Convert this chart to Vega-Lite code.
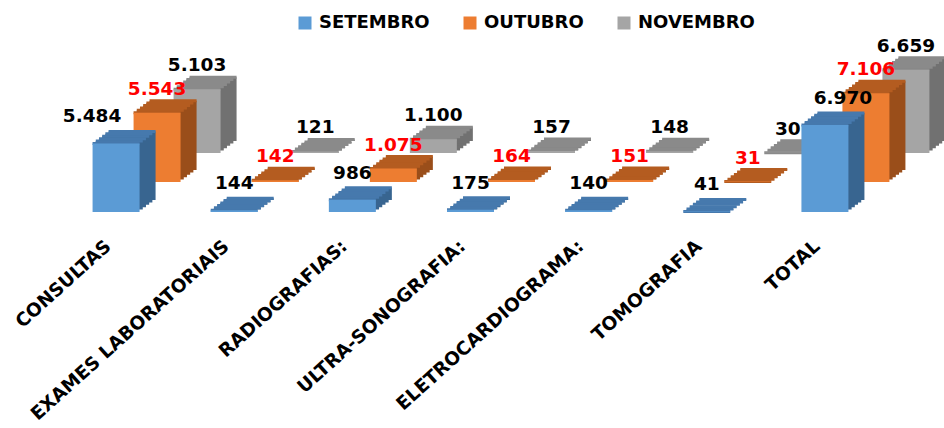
{
  "$schema": "https://vega.github.io/schema/vega-lite/v6.json",
  "width": 827,
  "height": 172,
  "autosize": {"type": "none"},
  "padding": {"left": 98, "top": 40, "right": 19, "bottom": 216},
  "background": "white",
  "config": {
    "view": {"stroke": null},
    "font": "DejaVu Sans",
    "locale": {"number": {"decimal": ",", "thousands": ".", "grouping": [3], "currency": ["R$", ""]}}
  },
  "data": {
    "values": [
      {"cat": "CONSULTAS", "s": "SETEMBRO", "v": 5484},
      {"cat": "CONSULTAS", "s": "OUTUBRO", "v": 5543},
      {"cat": "CONSULTAS", "s": "NOVEMBRO", "v": 5103},
      {"cat": "EXAMES LABORATORIAIS", "s": "SETEMBRO", "v": 144},
      {"cat": "EXAMES LABORATORIAIS", "s": "OUTUBRO", "v": 142},
      {"cat": "EXAMES LABORATORIAIS", "s": "NOVEMBRO", "v": 121},
      {"cat": "RADIOGRAFIAS:", "s": "SETEMBRO", "v": 986},
      {"cat": "RADIOGRAFIAS:", "s": "OUTUBRO", "v": 1075},
      {"cat": "RADIOGRAFIAS:", "s": "NOVEMBRO", "v": 1100},
      {"cat": "ULTRA-SONOGRAFIA:", "s": "SETEMBRO", "v": 175},
      {"cat": "ULTRA-SONOGRAFIA:", "s": "OUTUBRO", "v": 164},
      {"cat": "ULTRA-SONOGRAFIA:", "s": "NOVEMBRO", "v": 157},
      {"cat": "ELETROCARDIOGRAMA:", "s": "SETEMBRO", "v": 140},
      {"cat": "ELETROCARDIOGRAMA:", "s": "OUTUBRO", "v": 151},
      {"cat": "ELETROCARDIOGRAMA:", "s": "NOVEMBRO", "v": 148},
      {"cat": "TOMOGRAFIA", "s": "SETEMBRO", "v": 41},
      {"cat": "TOMOGRAFIA", "s": "OUTUBRO", "v": 31},
      {"cat": "TOMOGRAFIA", "s": "NOVEMBRO", "v": 30},
      {"cat": "TOTAL", "s": "SETEMBRO", "v": 6970},
      {"cat": "TOTAL", "s": "OUTUBRO", "v": 7106},
      {"cat": "TOTAL", "s": "NOVEMBRO", "v": 6659}
    ]
  },
  "encoding": {
    "x": {
      "field": "cat", "type": "nominal", "sort": null,
      "scale": {"paddingInner": 0, "paddingOuter": 0},
      "axis": {
        "title": null, "domain": false, "ticks": false, "tickSize": 0,
        "labelAngle": -42, "labelAlign": "right", "labelBaseline": "middle",
        "labelFont": "DejaVu Sans", "labelFontWeight": "bold", "labelFontSize": 18.5,
        "labelColor": "#000000", "labelOffset": -49, "labelPadding": 31,
        "labelLimit": 0, "labelOverlap": false, "labelBound": false, "labelFlush": false
      }
    },
    "y": {"field": "v", "type": "quantitative", "scale": {"domain": [0, 13760]}, "axis": null}
  },
  "layer": [
    {"transform": [{"filter": "datum.s === 'NOVEMBRO'"}], "mark": {"type": "bar", "width": 47, "color": "#717171", "xOffset": 43.2, "yOffset": -61.4, "y2Offset": -61.4}},
    {"transform": [{"filter": "datum.s === 'NOVEMBRO'"}], "mark": {"type": "bar", "width": 47, "color": "#717171", "xOffset": 46.4, "yOffset": -63.8, "y2Offset": -63.8}},
    {"transform": [{"filter": "datum.s === 'NOVEMBRO'"}], "mark": {"type": "bar", "width": 47, "color": "#717171", "xOffset": 49.6, "yOffset": -66.2, "y2Offset": -66.2}},
    {"transform": [{"filter": "datum.s === 'NOVEMBRO'"}], "mark": {"type": "bar", "width": 47, "color": "#717171", "xOffset": 52.8, "yOffset": -68.6, "y2Offset": -68.6}},
    {"transform": [{"filter": "datum.s === 'NOVEMBRO'"}], "mark": {"type": "bar", "width": 47, "color": "#717171", "xOffset": 56, "yOffset": -71, "y2Offset": -71}},
    {"transform": [{"filter": "datum.s === 'NOVEMBRO'"}], "mark": {"type": "tick", "orient": "horizontal", "size": 47, "thickness": 3, "opacity": 1, "color": "#8a8a8a", "xOffset": 40, "yOffset": -59}},
    {"transform": [{"filter": "datum.s === 'NOVEMBRO'"}], "mark": {"type": "tick", "orient": "horizontal", "size": 47, "thickness": 3, "opacity": 1, "color": "#8a8a8a", "xOffset": 43.2, "yOffset": -61.4}},
    {"transform": [{"filter": "datum.s === 'NOVEMBRO'"}], "mark": {"type": "tick", "orient": "horizontal", "size": 47, "thickness": 3, "opacity": 1, "color": "#8a8a8a", "xOffset": 46.4, "yOffset": -63.8}},
    {"transform": [{"filter": "datum.s === 'NOVEMBRO'"}], "mark": {"type": "tick", "orient": "horizontal", "size": 47, "thickness": 3, "opacity": 1, "color": "#8a8a8a", "xOffset": 49.6, "yOffset": -66.2}},
    {"transform": [{"filter": "datum.s === 'NOVEMBRO'"}], "mark": {"type": "tick", "orient": "horizontal", "size": 47, "thickness": 3, "opacity": 1, "color": "#8a8a8a", "xOffset": 52.8, "yOffset": -68.6}},
    {"transform": [{"filter": "datum.s === 'NOVEMBRO'"}], "mark": {"type": "tick", "orient": "horizontal", "size": 47, "thickness": 3, "opacity": 1, "color": "#8a8a8a", "xOffset": 56, "yOffset": -71}},
    {"transform": [{"filter": "datum.s === 'NOVEMBRO'"}], "mark": {"type": "bar", "width": 47, "xOffset": 40, "yOffset": -59, "y2Offset": -59},
     "encoding": {"color": {"field": "s", "type": "nominal", "scale": {"domain": ["SETEMBRO", "OUTUBRO", "NOVEMBRO"], "range": ["#5B9BD5", "#ED7D31", "#A5A5A5"]},
       "legend": {"title": null, "orient": "none", "direction": "horizontal", "legendX": 198, "legendY": -26, "symbolType": "square", "symbolSize": 169, "symbolStrokeWidth": 0, "symbolOpacity": 1, "labelFont": "DejaVu Sans", "labelFontWeight": "bold", "labelFontSize": 18, "labelColor": "#000000", "labelOffset": 5, "columnPadding": 31, "labelLimit": 0}}}},

    {"transform": [{"filter": "datum.s === 'OUTUBRO'"}], "mark": {"type": "bar", "width": 47, "color": "#9a4e1a", "xOffset": 3.2, "yOffset": -32.4, "y2Offset": -32.4}},
    {"transform": [{"filter": "datum.s === 'OUTUBRO'"}], "mark": {"type": "bar", "width": 47, "color": "#9a4e1a", "xOffset": 6.4, "yOffset": -34.8, "y2Offset": -34.8}},
    {"transform": [{"filter": "datum.s === 'OUTUBRO'"}], "mark": {"type": "bar", "width": 47, "color": "#9a4e1a", "xOffset": 9.6, "yOffset": -37.2, "y2Offset": -37.2}},
    {"transform": [{"filter": "datum.s === 'OUTUBRO'"}], "mark": {"type": "bar", "width": 47, "color": "#9a4e1a", "xOffset": 12.8, "yOffset": -39.6, "y2Offset": -39.6}},
    {"transform": [{"filter": "datum.s === 'OUTUBRO'"}], "mark": {"type": "bar", "width": 47, "color": "#9a4e1a", "xOffset": 16, "yOffset": -42, "y2Offset": -42}},
    {"transform": [{"filter": "datum.s === 'OUTUBRO'"}], "mark": {"type": "tick", "orient": "horizontal", "size": 47, "thickness": 3, "opacity": 1, "color": "#b45c20", "xOffset": 0, "yOffset": -30}},
    {"transform": [{"filter": "datum.s === 'OUTUBRO'"}], "mark": {"type": "tick", "orient": "horizontal", "size": 47, "thickness": 3, "opacity": 1, "color": "#b45c20", "xOffset": 3.2, "yOffset": -32.4}},
    {"transform": [{"filter": "datum.s === 'OUTUBRO'"}], "mark": {"type": "tick", "orient": "horizontal", "size": 47, "thickness": 3, "opacity": 1, "color": "#b45c20", "xOffset": 6.4, "yOffset": -34.8}},
    {"transform": [{"filter": "datum.s === 'OUTUBRO'"}], "mark": {"type": "tick", "orient": "horizontal", "size": 47, "thickness": 3, "opacity": 1, "color": "#b45c20", "xOffset": 9.6, "yOffset": -37.2}},
    {"transform": [{"filter": "datum.s === 'OUTUBRO'"}], "mark": {"type": "tick", "orient": "horizontal", "size": 47, "thickness": 3, "opacity": 1, "color": "#b45c20", "xOffset": 12.8, "yOffset": -39.6}},
    {"transform": [{"filter": "datum.s === 'OUTUBRO'"}], "mark": {"type": "tick", "orient": "horizontal", "size": 47, "thickness": 3, "opacity": 1, "color": "#b45c20", "xOffset": 16, "yOffset": -42}},
    {"transform": [{"filter": "datum.s === 'OUTUBRO'"}], "mark": {"type": "bar", "width": 47, "xOffset": 0, "yOffset": -30, "y2Offset": -30},
     "encoding": {"color": {"field": "s", "type": "nominal"}}},

    {"transform": [{"filter": "datum.s === 'SETEMBRO'"}], "mark": {"type": "bar", "width": 47, "color": "#386590", "xOffset": -37.8, "yOffset": -2.4, "y2Offset": -2.4}},
    {"transform": [{"filter": "datum.s === 'SETEMBRO'"}], "mark": {"type": "bar", "width": 47, "color": "#386590", "xOffset": -34.6, "yOffset": -4.8, "y2Offset": -4.8}},
    {"transform": [{"filter": "datum.s === 'SETEMBRO'"}], "mark": {"type": "bar", "width": 47, "color": "#386590", "xOffset": -31.4, "yOffset": -7.2, "y2Offset": -7.2}},
    {"transform": [{"filter": "datum.s === 'SETEMBRO'"}], "mark": {"type": "bar", "width": 47, "color": "#386590", "xOffset": -28.2, "yOffset": -9.6, "y2Offset": -9.6}},
    {"transform": [{"filter": "datum.s === 'SETEMBRO'"}], "mark": {"type": "bar", "width": 47, "color": "#386590", "xOffset": -25, "yOffset": -12, "y2Offset": -12}},
    {"transform": [{"filter": "datum.s === 'SETEMBRO'"}], "mark": {"type": "tick", "orient": "horizontal", "size": 47, "thickness": 3, "opacity": 1, "color": "#4679ad", "xOffset": -41, "yOffset": 0}},
    {"transform": [{"filter": "datum.s === 'SETEMBRO'"}], "mark": {"type": "tick", "orient": "horizontal", "size": 47, "thickness": 3, "opacity": 1, "color": "#4679ad", "xOffset": -37.8, "yOffset": -2.4}},
    {"transform": [{"filter": "datum.s === 'SETEMBRO'"}], "mark": {"type": "tick", "orient": "horizontal", "size": 47, "thickness": 3, "opacity": 1, "color": "#4679ad", "xOffset": -34.6, "yOffset": -4.8}},
    {"transform": [{"filter": "datum.s === 'SETEMBRO'"}], "mark": {"type": "tick", "orient": "horizontal", "size": 47, "thickness": 3, "opacity": 1, "color": "#4679ad", "xOffset": -31.4, "yOffset": -7.2}},
    {"transform": [{"filter": "datum.s === 'SETEMBRO'"}], "mark": {"type": "tick", "orient": "horizontal", "size": 47, "thickness": 3, "opacity": 1, "color": "#4679ad", "xOffset": -28.2, "yOffset": -9.6}},
    {"transform": [{"filter": "datum.s === 'SETEMBRO'"}], "mark": {"type": "tick", "orient": "horizontal", "size": 47, "thickness": 3, "opacity": 1, "color": "#4679ad", "xOffset": -25, "yOffset": -12}},
    {"transform": [{"filter": "datum.s === 'SETEMBRO'"}], "mark": {"type": "bar", "width": 47, "xOffset": -41, "yOffset": 0, "y2Offset": 0},
     "encoding": {"color": {"field": "s", "type": "nominal"}}},

    {"transform": [{"filter": "datum.s === 'NOVEMBRO'"}], "mark": {"type": "text", "font": "DejaVu Sans", "fontWeight": "bold", "fontSize": 18.5, "color": "#000000", "baseline": "middle", "align": "center", "dx": 40, "dy": -83},
     "encoding": {"text": {"field": "v", "type": "quantitative", "format": ",d"}}},
    {"transform": [{"filter": "datum.s === 'OUTUBRO'"}], "mark": {"type": "text", "font": "DejaVu Sans", "fontWeight": "bold", "fontSize": 18.5, "color": "#FF0000", "baseline": "middle", "align": "center", "dx": 0, "dy": -54},
     "encoding": {"text": {"field": "v", "type": "quantitative", "format": ",d"}}},
    {"transform": [{"filter": "datum.s === 'SETEMBRO' && datum.cat !== 'CONSULTAS' && datum.cat !== 'TOTAL'"}], "mark": {"type": "text", "font": "DejaVu Sans", "fontWeight": "bold", "fontSize": 18.5, "color": "#000000", "baseline": "middle", "align": "center", "dx": -41, "dy": -27},
     "encoding": {"text": {"field": "v", "type": "quantitative", "format": ",d"}}},
    {"transform": [{"filter": "datum.s === 'SETEMBRO' && datum.cat === 'CONSULTAS'"}], "mark": {"type": "text", "font": "DejaVu Sans", "fontWeight": "bold", "fontSize": 18.5, "color": "#000000", "baseline": "middle", "align": "center", "dx": -65, "dy": -27},
     "encoding": {"text": {"field": "v", "type": "quantitative", "format": ",d"}}},
    {"transform": [{"filter": "datum.s === 'SETEMBRO' && datum.cat === 'TOTAL'"}], "mark": {"type": "text", "font": "DejaVu Sans", "fontWeight": "bold", "fontSize": 18.5, "color": "#000000", "baseline": "middle", "align": "center", "dx": -23, "dy": -27},
     "encoding": {"text": {"field": "v", "type": "quantitative", "format": ",d"}}}
  ]
}
